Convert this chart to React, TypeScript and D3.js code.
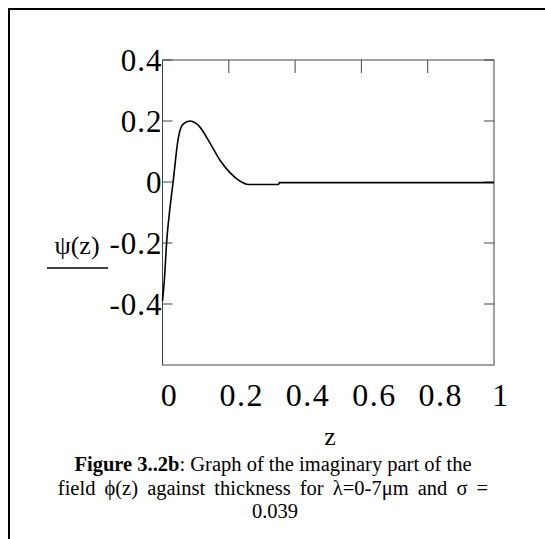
import React from "react";
import * as d3 from "d3";

// values
const zValues = [0, 0.005, 0.013, 0.022, 0.032, 0.047, 0.062, 0.083, 0.1, 0.113, 0.143, 0.173, 0.204, 0.234, 0.258, 0.35, 0.353, 1];
const psiValues = [-0.39, -0.33, -0.19, -0.09, 0.0, 0.14, 0.19, 0.2, 0.193, 0.18, 0.128, 0.072, 0.03, 0.003, -0.008, -0.008, -0.002, -0.002];
const xTicks = [0, 0.2, 0.4, 0.6, 0.8, 1];
const xTickLabels = ["0", "0.2", "0.4", "0.6", "0.8", "1"];
const yTicks = [0.4, 0.2, 0, -0.2, -0.4];
const yTickLabels = ["0.4", "0.2", "0", "-0.2", "-0.4"];

const W = 545;
const H = 539;
const font = "'Liberation Serif', 'Times New Roman', serif";

export default function App() {
  const margin = { top: 60, right: 51, bottom: 174, left: 162.5 };
  const x = d3.scaleLinear().domain([0, 1]).range([margin.left, W - margin.right]);
  const y = d3.scaleLinear().domain([-0.6, 0.4]).range([H - margin.bottom, margin.top]);

  const data = zValues.map((z, i) => ({ z, v: psiValues[i] }));
  const line = d3
    .line<{ z: number; v: number }>()
    .x((d) => x(d.z))
    .y((d) => y(d.v))
    .curve(d3.curveMonotoneX);

  const x0 = x(0);
  const x1 = x(1);
  const y0 = y(0.4);
  const y1 = y(-0.6);

  return (
    <svg
      width={W}
      height={H}
      style={{ position: "absolute", left: 0, top: 0, background: "#fff" }}
      fontFamily={font}
    >
      {/* outer box, open to the right and bottom */}
      <path d={`M9,${H + 5}V9H${W + 5}`} fill="none" stroke="#000" strokeWidth={2} />

      {/* plot frame */}
      <rect x={x0} y={y0} width={x1 - x0} height={y1 - y0} fill="none" stroke="#444" strokeWidth={1} />

      {/* ticks on top edge */}
      {xTicks.slice(1, -1).map((t) => (
        <line key={"tx" + t} x1={x(t)} x2={x(t)} y1={y0} y2={y0 + 13} stroke="#444" />
      ))}
      {/* ticks on left and right edges */}
      {yTicks.map((t) => (
        <g key={"ty" + t}>
          <line x1={x0} x2={x0 + 10} y1={y(t)} y2={y(t)} stroke="#444" />
          <line x1={x1 - 10} x2={x1} y1={y(t)} y2={y(t)} stroke="#444" />
        </g>
      ))}

      {/* curve */}
      <path d={line(data) ?? ""} fill="none" stroke="#000" strokeWidth={1.6} />

      {/* y tick labels */}
      {yTicks.map((t, i) => (
        <text
          key={"ly" + t}
          x={x0}
          y={y(t) + 11}
          textAnchor="end"
          fontSize={31}
          letterSpacing={1}
          fontFamily={font}
        >
          {yTickLabels[i]}
        </text>
      ))}

      {/* x tick labels */}
      {xTicks.map((t, i) => (
        <text
          key={"lx" + t}
          x={x(t) + (xTickLabels[i].length > 1 ? 13 : 7)}
          y={406}
          textAnchor="middle"
          fontSize={32}
          letterSpacing={1.5}
          fontFamily={font}
        >
          {xTickLabels[i]}
        </text>
      ))}

      {/* y axis title */}
      <text x={77} y={254} textAnchor="middle" fontSize={26} fontFamily={font}>
        ψ(z)
      </text>
      <line x1={47} x2={108} y1={268} y2={268} stroke="#000" strokeWidth={1.5} />

      {/* x axis title */}
      <text x={330} y={445} textAnchor="middle" fontSize={26} fontFamily={font}>
        z
      </text>

      {/* caption */}
      <text x={273} y={471} textAnchor="middle" fontSize={20.5} fontFamily={font}>
        <tspan fontWeight="bold">Figure 3..2b</tspan>: Graph of the imaginary part of the
      </text>
      <text x={273} y={495} textAnchor="middle" fontSize={20.5} wordSpacing={4} fontFamily={font}>
        field ϕ(z) against thickness for λ=0-7μm and σ =
      </text>
      <text x={275} y={518} textAnchor="middle" fontSize={20.5} fontFamily={font}>
        0.039
      </text>
    </svg>
  );
}
